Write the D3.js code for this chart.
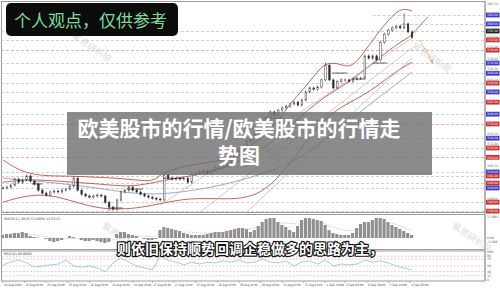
<!DOCTYPE html>
<html>
<head>
<meta charset="utf-8">
<script src="https://cdn.jsdelivr.net/npm/d3@7"></script>
<style>
html,body{margin:0;padding:0;background:#fff;}
svg{display:block;}
</style>
</head>
<body>
<svg id="chart" width="500" height="288"></svg>
<script>
// hourly closes
const closes = [
  3434,3436,3440.5,3454,3447,3452,3461,3449.5,3443,3429,3422.5,3418,3425,3427,3425,3429,3431.5,3438,3456,3429,3420,3416,3413.5,3416,3418,3416,
  3402,3391,3386.5,3407,3425,3429,3436,3429,3425,3420,3416,3413.5,3411,3409,3407,3463,3456,3454,3456,3454,3456,3447,3465,3467.5,3470,3472,3467.5,3474,3479,3479,3483,3490,3501,3508,3519,3528,3539.5,3548.5,3557.5,3564,3571,3591,3605,3598,3609,3614,3618,3623,3627,3620.5,3632,
  3650,3659,3656,3661,3677,3710,3677,3659,3674,3677,3677,3674,3679,3681,3681,3731,3726,3731,3722,3762,3780,3789,3794,3798,3794,3803,3785,3773
];
// [bar, high or low] for the long wicks
const spikes = [[18, 3461], [27, 3382], [82, 3717], [102, 3827]];

// bollinger bands and slow average, [bar, price]
const bbUpper = [[0,3497],[4.3,3472],[9.4,3461],[17,3461],[24.7,3458],[32.3,3454],[38.6,3447],[39.9,3467.5],[46.8,3485.5],[57.7,3497],[61,3519],[65.3,3542],[69.7,3580],[73,3625],[76.3,3654],[79.8,3695],[82.3,3717],[85.7,3713],[88.2,3704],[90.8,3726],[93.3,3758],[95.9,3789],[98.9,3821],[101.5,3839],[104,3832]];
const bbMid = [[0,3447],[6.9,3454],[14.5,3449],[24.7,3443],[32.3,3436],[37.4,3445],[45.8,3458.5],[51.9,3467.5],[60.3,3492],[67.1,3526],[73.7,3580],[81.4,3638.5],[88.2,3672],[95.9,3728.5],[100.9,3762],[104,3776],[106,3800.5],[108.1,3818.5]];
const bbLower = [[0,3402],[4.3,3413.5],[9.4,3420],[14.5,3413.5],[20.9,3395.5],[25.9,3386.5],[32.3,3386.5],[38.6,3395.5],[47.5,3413.5],[58.5,3407],[65.3,3418],[71.2,3467.5],[75.5,3519],[79.8,3571],[84.4,3609],[89.5,3632],[94.6,3659],[99.7,3695],[104,3717]];
const slowMa = [[0,3456],[12,3447],[24.7,3434],[37.4,3413.5],[54.4,3436],[67.1,3467.5],[75.5,3501],[80.6,3535],[90.8,3605],[104,3695]];

// trend lines and support marks
const trendLines = [
  [[39.9,3395],[104,3771]],
  [[50.1,3380],[104,3749]],
  [[62,3380],[104,3727]]
];
const supportMarks = [[7.4,9.9,3443],[27.2,30.5,3389],[31.5,35.6,3431.5],[40.7,45.8,3456],[66.1,71.2,3591],[83.7,87.5,3692.5],[89,92,3679],[94.1,97.6,3715]];
const projection = [[106,3766],[109.3,3715]];

// price levels with their label colours
const levelPrices = [3823,3803,3787,3767,3744,3715,3692,3670,3650,3627,3600,3578,3546,3524,3503,3470,3461,3445,3434,3402,3382];
const levelKinds  = ['b','b','k','r','r','b','b','r','b','r','b','r','b','r','r','b','r','r','b','r','r'];
const levelFrom   = [94,101,0,0,0,0,0,0,0,0,0,0,0,0,0,0,0,0,0,0,0];
const axisPrices = [3847.1,3773.5,3751.0,3724.0,3701.5,3676.7,3555.3,3532.8,3483.3,3409.0];

// MACD histogram per bar, and signal every 4 bars
const macd = [2.6,3.4,3.4,4.3,4.3,5.1,4.3,1.7,0.9,0.4,0,-0.9,-2.6,-3.4,-2.6,-1.7,0,1.7,0.9,0,-1.7,-2.6,-2.6,-1.7,-2.6,-3.4,-4.3,-3.4,0,3.4,
  5.1,5.1,3.4,2.6,1.7,0,-0.9,-1.7,-1.7,-0.9,6.8,9.4,8.5,7.7,6.8,6.0,4.3,3.4,2.6,2.6,2.6,2.6,3.4,4.3,5.1,5.1,5.1,6.0,6.8,7.7,
  8.5,8.5,7.7,5.1,6.8,10.2,13.6,16.2,17.0,17.0,13.6,11.1,9.4,6.8,5.1,10.2,15.3,17.0,17.0,16.2,15.3,14.5,11.1,6.8,4.3,3.4,2.6,2.6,2.6,4.3,
  8.5,11.9,13.6,13.6,15.3,17.0,17.0,16.2,13.6,11.1,9.4,7.7,6.0,4.3,2.6];
const macdSignal = [3.0,3.8,3.0,0.5,-1.0,0,-1.5,-2.0,1.5,1.5,0.5,5.5,5.0,3.5,4.5,7.0,7.5,13,13,11,15,9,5,9,14.5,12,6];
const macdAxis = [17.886, 0, -3.188];

// RSI every 2 bars
const rsi = [54,64,71,61,46,50,54,57,71,50,46,50,43,29,61,79,64,50,43,36,86,71,64,54,64,57,64,61,68,64,71,61,64,75,64,61,68,50,64,68,57,71,50,57,54,57,71,64,68,61,50,43,36];
const rsiLevels = [85,75,50,30,15];
const rsiAxis = [100,85,75,50,30,15,0];

const timeTickBars = [0,5.5,11,16.5,22,27.5,33,38,43.5,49,54.5,60,65.5,71,76.5,82,87,92.5,98,103.5];
const timeLabels = ["24 Aug 2020","25 Aug 02:00","25 Aug 10:00","25 Aug 18:00","26 Aug 02:00","26 Aug 10:00","26 Aug 18:00","27 Aug 02:00","27 Aug 10:00","27 Aug 18:00","28 Aug 02:00","28 Aug 10:00","28 Aug 18:00","31 Aug 02:00","31 Aug 10:00","1 Sep 10:00","2 Sep 02:00","2 Sep 18:00","3 Sep 10:00","4 Sep 02:00"];

const svg = d3.select("#chart");
const W = 500, H = 288, axisX = 485;

const x = d3.scaleLinear().domain([0, 104]).range([3, 412]);
const y = d3.scaleLinear().domain([3380, 3850]).range([212, 3]);
const yMacd = d3.scaleLinear().domain([-9.35, 17.886]).range([249, 217]);
const yRsi = d3.scaleLinear().domain([0, 100]).range([280, 252]);

svg.append("rect").attr("width", W).attr("height", H).attr("fill", "#fff");

// panels
const panels = [[1.5, 212.5], [214.5, 249.5], [251, 281]];
svg.selectAll(".panel").data(panels).join("rect")
  .attr("x", 1.5).attr("y", d => d[0]).attr("width", axisX - 1.5).attr("height", d => d[1] - d[0])
  .attr("fill", "none").attr("stroke", "#9a9a9a").attr("stroke-width", 1);
svg.append("line").attr("x1", axisX).attr("x2", axisX).attr("y1", 1).attr("y2", 281).attr("stroke", "#9a9a9a");

const main = svg.append("g");

// level lines
const redLines = new Set([3744, 3578, 3503]);
main.selectAll(".lvl").data(levelPrices).join("line")
  .attr("x1", (d, i) => x(levelFrom[i]) - (levelFrom[i] ? 0 : 2)).attr("x2", axisX)
  .attr("y1", d => Math.round(y(d)) + 0.5).attr("y2", d => Math.round(y(d)) + 0.5)
  .attr("stroke", d => redLines.has(d) ? "#e39a9a" : "#c4c4c4")
  .attr("stroke-width", 0.8)
  .attr("stroke-dasharray", "3,2");

// watermarks
const marks = [[90, 50], [430, 60], [260, 150], [120, 240], [470, 240]];
svg.selectAll(".wm").data(marks).join("text")
  .attr("transform", d => `translate(${d[0]},${d[1]}) rotate(35)`)
  .attr("text-anchor", "middle")
  .attr("font-family", "Noto Sans CJK SC").attr("font-size", 9)
  .attr("fill", "#cfcfcf").attr("opacity", 0.7)
  .text("紫思研析院");

// bands
const line = d3.line().x(d => x(d[0])).y(d => y(d[1])).curve(d3.curveBasis);
[[bbUpper, "#c0392b"], [bbMid, "#c0392b"], [bbLower, "#c0392b"], [slowMa, "#8a90b4"]].forEach(([data, col]) => {
  main.append("path").attr("d", line(data)).attr("fill", "none").attr("stroke", col).attr("stroke-width", 0.8);
});

// trend lines
const straight = d3.line().x(d => x(d[0])).y(d => y(d[1]));
main.selectAll(".trend").data(trendLines).join("path")
  .attr("d", straight).attr("fill", "none").attr("stroke", "#b9a7a7").attr("stroke-width", 0.6);

// candles
const bars = closes.map((c, i) => ({ i, open: i ? closes[i - 1] : c, close: c }));
const spikeMap = new Map(spikes);
const cg = main.append("g");
cg.selectAll("line").data(bars).join("line")
  .attr("x1", d => x(d.i)).attr("x2", d => x(d.i))
  .attr("y1", d => {
    const top = Math.min(y(d.open), y(d.close)) - 1.5;
    const s = spikeMap.get(d.i);
    return s && y(s) < top ? y(s) : top;
  })
  .attr("y2", d => {
    const bot = Math.max(y(d.open), y(d.close)) + 1.5;
    const s = spikeMap.get(d.i);
    return s && y(s) > bot ? y(s) : bot;
  })
  .attr("stroke", "#333").attr("stroke-width", 0.6);
cg.selectAll("rect").data(bars).join("rect")
  .attr("x", d => x(d.i) - 0.8).attr("width", 1.6)
  .attr("y", d => Math.min(y(d.open), y(d.close)))
  .attr("height", d => Math.max(0.8, Math.abs(y(d.open) - y(d.close))))
  .attr("fill", d => d.close >= d.open ? "#fff" : "#2b2b2b")
  .attr("stroke", "#2b2b2b").attr("stroke-width", 0.45);

// support marks
main.selectAll(".sup").data(supportMarks).join("line")
  .attr("x1", d => x(d[0])).attr("x2", d => x(d[1]))
  .attr("y1", d => y(d[2])).attr("y2", d => y(d[2]))
  .attr("stroke", "#222").attr("stroke-width", 0.7);

// projection arrow
svg.append("defs").append("marker").attr("id", "arr").attr("viewBox", "0 0 6 6")
  .attr("refX", 5).attr("refY", 3).attr("markerWidth", 4).attr("markerHeight", 4).attr("orient", "auto")
  .append("path").attr("d", "M0,0L6,3L0,6Z").attr("fill", "#f0a030");
main.append("path").attr("d", straight(projection)).attr("stroke", "#f0a030").attr("stroke-width", 1)
  .attr("stroke-dasharray", "2,1").attr("marker-end", "url(#arr)");

// right price axis
const ax = svg.append("g").attr("font-family", "DejaVu Sans").attr("font-size", 3.2);
ax.selectAll(".tk").data(axisPrices).join("text")
  .attr("x", axisX + 2).attr("y", d => y(d) + 1.2).attr("fill", "#666")
  .attr("textLength", 11).attr("lengthAdjust", "spacingAndGlyphs")
  .text(d => d.toFixed(2));
const kindCol = { b: "#3b3bc4", r: "#cc3333", k: "#222" };
const lab = ax.selectAll(".lab").data(levelPrices).join("g")
  .attr("transform", d => `translate(${axisX + 1},${y(d)})`);
lab.append("rect").attr("x", 0).attr("y", -2.4).attr("width", 13.5).attr("height", 4.8)
  .attr("fill", (d, i) => kindCol[levelKinds[i]]);
lab.append("text").attr("x", 1).attr("y", 1.2).attr("fill", "#fff")
  .attr("textLength", 11).attr("lengthAdjust", "spacingAndGlyphs")
  .text(d => d.toFixed(2));

// MACD
const step = x(1) - x(0);
svg.append("text").attr("x", 4).attr("y", 219.5).attr("font-family", "DejaVu Sans").attr("font-size", 3.4)
  .attr("fill", "#444").text("MACD(12,26,9) 13.0854 12.5213");
svg.append("g").selectAll("rect").data(macd).join("rect")
  .attr("x", (d, i) => x(i) - step / 2).attr("width", step * 0.8)
  .attr("y", d => Math.min(yMacd(d), yMacd(0)))
  .attr("height", d => Math.abs(yMacd(d) - yMacd(0)))
  .attr("fill", "#8f8f8f");
svg.append("path")
  .attr("d", d3.line().x((d, i) => x(i * 4)).y(d => yMacd(d)).curve(d3.curveBasis)(macdSignal))
  .attr("fill", "none").attr("stroke", "#d48a8a").attr("stroke-width", 0.6).attr("stroke-dasharray", "1,1");
ax.selectAll(".mk").data(macdAxis).join("text")
  .attr("x", axisX + 2).attr("y", d => yMacd(d) + 1.2).attr("fill", "#555")
  .text(d => d === 0 ? "0.00" : d.toFixed(3));

// RSI
svg.append("text").attr("x", 4).attr("y", 254.5).attr("font-family", "DejaVu Sans").attr("font-size", 3.4)
  .attr("fill", "#444").text("RSI(14) 48.6840");
svg.selectAll(".rl").data(rsiLevels).join("line")
  .attr("x1", 2).attr("x2", axisX).attr("y1", d => yRsi(d)).attr("y2", d => yRsi(d))
  .attr("stroke", d => d === 50 ? "#bbb" : "#e0a0a0").attr("stroke-width", 0.6).attr("stroke-dasharray", "2,1.5");
svg.append("path")
  .attr("d", d3.line().x((d, i) => x(i * 2)).y(d => yRsi(d))(rsi))
  .attr("fill", "none").attr("stroke", "#7fb2d6").attr("stroke-width", 0.7);
ax.selectAll(".rk").data(rsiAxis).join("text")
  .attr("x", axisX + 2).attr("y", d => yRsi(d) + 1.2).attr("fill", "#555").text(d => d);

// time axis
const tg = svg.append("g").attr("font-family", "DejaVu Sans").attr("font-size", 3.2).attr("fill", "#444");
timeTickBars.forEach((b, i) => {
  tg.append("line").attr("x1", x(b)).attr("x2", x(b)).attr("y1", 281).attr("y2", 283).attr("stroke", "#777").attr("stroke-width", 0.5);
  tg.append("text").attr("x", x(b) + 1).attr("y", 285.8)
    .attr("textLength", 17.5).attr("lengthAdjust", "spacingAndGlyphs").text(timeLabels[i]);
});

// overlays
svg.append("rect").attr("x", 6).attr("y", 3).attr("width", 172).attr("height", 33).attr("rx", 5).attr("fill", "#0c0c0c");
svg.append("text").attr("x", 14).attr("y", 26.5).attr("font-family", "Noto Sans CJK SC").attr("font-size", 17)
  .attr("fill", "#7ddc9c").text("个人观点，仅供参考");

svg.append("rect").attr("x", 67).attr("y", 112).attr("width", 365).attr("height", 63).attr("fill", "rgb(110,110,110)").attr("opacity", 0.8);
const title = svg.append("text").attr("text-anchor", "middle").attr("font-family", "Noto Sans CJK SC")
  .attr("font-weight", 700).attr("font-size", 21).attr("fill", "#fff");
title.append("tspan").attr("x", 239).attr("y", 136).text("欧美股市的行情/欧美股市的行情走");
title.append("tspan").attr("x", 239).attr("y", 163).text("势图");

svg.append("text").attr("x", 117).attr("y", 254).attr("font-family", "Noto Sans CJK SC").attr("font-weight", 700)
  .attr("font-size", 14).attr("fill", "#fff").attr("stroke", "#111").attr("stroke-width", 2.4)
  .attr("paint-order", "stroke").attr("stroke-linejoin", "round")
  .text("则依旧保持顺势回调企稳做多的思路为主，");
</script>
</body>
</html>
